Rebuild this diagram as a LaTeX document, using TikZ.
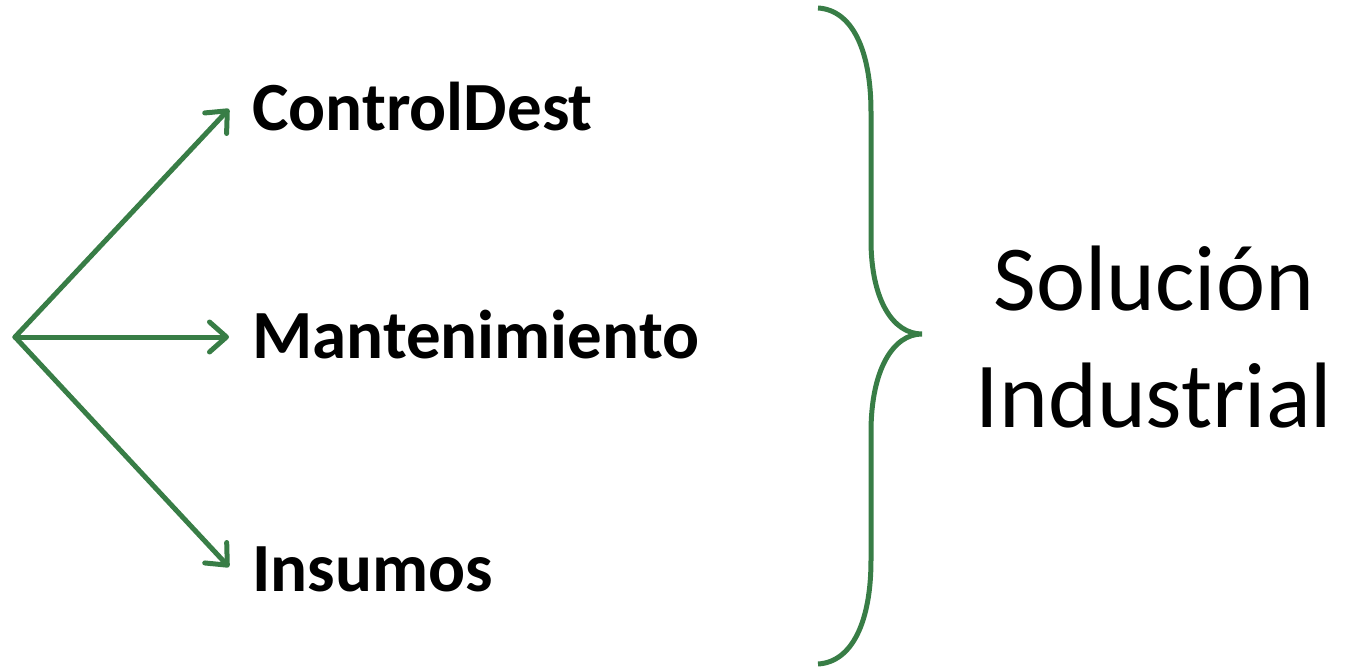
\documentclass[tikz,border=0pt]{standalone}
\usepackage{fontspec}
\setmainfont{Carlito}
\usetikzlibrary{arrows.meta}
\definecolor{grn}{RGB}{56,125,70}
\tikzset{
  arr/.style={draw=grn, line width=5pt, line cap=round, -{Straight Barb[length=17pt,width=30pt,round]}},
  item/.style={anchor=base west, inner sep=0pt, font=\fontsize{69}{80}\selectfont\bfseries},
  big/.style={anchor=base, inner sep=0pt, font=\fontsize{93}{110}\selectfont},
  brace/.style={draw=grn, line width=5pt}
}
\begin{document}
\begin{tikzpicture}[x=1pt,y=-1pt]
\useasboundingbox (0,0) rectangle (1353,671);
\coordinate (o) at (15,337);
\node[item] (cd) at (252,131) {ControlDest};
\node[item] (mt) at (252,358) {Mantenimiento};
\node[item] (in) at (252,591) {Insumos};
\coordinate (t1) at (229,109);
\coordinate (t2) at (229,337);
\coordinate (t3) at (229,567);
\draw[arr] (o) -- (t1);
\draw[arr] (o) -- (t2);
\draw[arr] (o) -- (t3);
\draw[brace] (818,8) .. controls (852,10) and (871,50) .. (871,112) -- (871,240)
  .. controls (871,300) and (893,334) .. (922,334)
  .. controls (893,334) and (871,370) .. (871,432) -- (871,560)
  .. controls (871,622) and (852,662) .. (818,664);
\node[big] (s1) at (1154,310) {Solución};
\node[big] (s2) at (1154,427) {Industrial};
\end{tikzpicture}
\end{document}
